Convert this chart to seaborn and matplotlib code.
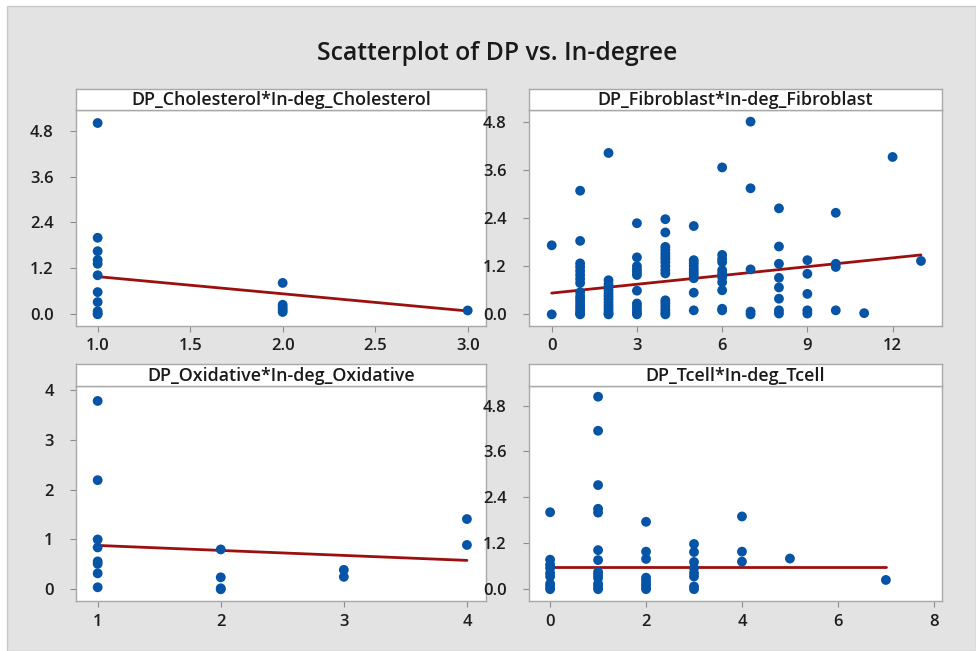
import numpy as np
import pandas as pd
import matplotlib
matplotlib.use("Agg")
import matplotlib.pyplot as plt
from matplotlib.patches import Rectangle
import seaborn as sns

sns.set_style("white")
plt.rcParams['font.family'] = ['Open Sans', 'DejaVu Sans']

# ---------------- data ----------------
title = "Scatterplot of DP vs. In-degree"
panel_titles = ["DP_Cholesterol*In-deg_Cholesterol", "DP_Fibroblast*In-deg_Fibroblast",
                "DP_Oxidative*In-deg_Oxidative", "DP_Tcell*In-deg_Tcell"]

chol_x = [1]*11 + [2]*5 + [3]
chol_y = [5.0, 2.0, 1.65, 1.42, 1.32, 1.02, 0.58, 0.32, 0.08, 0.02, 0.0,
          0.82, 0.25, 0.18, 0.12, 0.06,
          0.1]

fib_x = ([0]*2 + [1]*17 + [2]*14 + [3]*12 + [4]*17 + [5]*10 + [6]*11 + [7]*5
         + [8]*8 + [9]*5 + [10]*4 + [11] + [12] + [13])
fib_y = ([1.72, 0.0] +
         [3.08, 1.83, 1.27, 1.18, 1.08, 0.98, 0.88, 0.78, 0.55, 0.45, 0.38, 0.30, 0.22, 0.15, 0.08, 0.02, 0.0] +
         [4.02, 0.85, 0.75, 0.68, 0.60, 0.52, 0.45, 0.38, 0.30, 0.22, 0.15, 0.08, 0.02, 0.0] +
         [2.27, 1.42, 1.20, 1.12, 1.05, 0.98, 0.59, 0.27, 0.20, 0.12, 0.05, 0.0] +
         [2.37, 2.04, 1.68, 1.60, 1.52, 1.45, 1.38, 1.30, 1.20, 1.10, 1.02, 0.35, 0.28, 0.20, 0.12, 0.05, 0.0] +
         [2.20, 1.35, 1.28, 1.20, 1.12, 1.05, 0.98, 0.90, 0.54, 0.10] +
         [3.66, 1.48, 1.38, 1.30, 1.10, 1.02, 0.92, 0.80, 0.60, 0.14, 0.10] +
         [4.80, 3.14, 1.12, 0.07, 0.0] +
         [2.64, 1.69, 1.26, 0.91, 0.67, 0.39, 0.10, 0.02] +
         [1.35, 1.01, 0.51, 0.10, 0.02] +
         [2.53, 1.26, 1.18, 0.10] +
         [0.03] + [3.92] + [1.33])

oxi_x = [1]*8 + [2]*4 + [3]*2 + [4]*2
oxi_y = [3.78, 2.19, 1.0, 0.84, 0.56, 0.51, 0.32, 0.04,
         0.80, 0.24, 0.02, 0.0,
         0.39, 0.25,
         1.41, 0.89]

tcell_x = [0]*9 + [1]*13 + [2]*8 + [3]*8 + [4]*3 + [5] + [7]
tcell_y = ([2.01, 0.77, 0.64, 0.55, 0.42, 0.33, 0.14, 0.07, 0.0] +
           [5.03, 4.14, 2.72, 2.10, 2.0, 1.02, 0.76, 0.45, 0.37, 0.29, 0.14, 0.07, 0.0] +
           [1.76, 0.98, 0.79, 0.30, 0.22, 0.14, 0.07, 0.0] +
           [1.18, 0.97, 0.71, 0.55, 0.42, 0.33, 0.07, 0.0] +
           [1.90, 0.98, 0.72] + [0.80] + [0.24])

# fitted regression lines (end points)
fit_x = [[1, 3], [0, 13], [1, 4], [0, 7]]
fit_y = [[0.985, 0.087], [0.53, 1.48], [0.88, 0.58], [0.575, 0.575]]

xticks = [[1.0, 1.5, 2.0, 2.5, 3.0], [0, 3, 6, 9, 12], [1, 2, 3, 4], [0, 2, 4, 6, 8]]
xticklabels = [["1.0", "1.5", "2.0", "2.5", "3.0"], ["0", "3", "6", "9", "12"],
               ["1", "2", "3", "4"], ["0", "2", "4", "6", "8"]]
yticks = [[0.0, 1.2, 2.4, 3.6, 4.8], [0.0, 1.2, 2.4, 3.6, 4.8], [0, 1, 2, 3, 4], [0.0, 1.2, 2.4, 3.6, 4.8]]
yticklabels = [["0.0", "1.2", "2.4", "3.6", "4.8"], ["0.0", "1.2", "2.4", "3.6", "4.8"],
               ["0", "1", "2", "3", "4"], ["0.0", "1.2", "2.4", "3.6", "4.8"]]

# ---------------- layout ----------------
W, H = 976, 651
fig = plt.figure(figsize=(W/100, H/100), dpi=100, facecolor="white")
fig.patches.append(Rectangle((7/W, 0), 1 - 7/W, 1 - 6/H, transform=fig.transFigure,
                             facecolor="#e3e3e3", edgecolor="#c9c9c9", linewidth=1.0, zorder=-10))

fig.text(497/W, 1 - 53/H, title, ha="center", va="center", fontsize=17.8,
         fontweight="semibold", color="#1a1a1a")

boxes = [(76, 486, 110, 326, 89), (529, 942, 110, 326, 89),
         (76, 486, 386, 601, 364), (529, 942, 386, 601, 364)]
xlims = [(0.883, 3.099), (-0.8, 13.74), (0.824, 4.155), (-0.44, 8.17)]
ylims = [(-0.306, 5.34), (-0.29, 5.09), (-0.235, 4.08), (-0.31, 5.31)]

xs = [chol_x, fib_x, oxi_x, tcell_x]
ys = [chol_y, fib_y, oxi_y, tcell_y]

dot_color = "#0654a6"
line_color = "#9b0f0f"
spine_color = "#a8a8a8"

for i in range(4):
    l, r, t, b, st = boxes[i]
    ax = fig.add_axes([l/W, 1 - b/H, (r - l)/W, (b - t)/H])
    ax.set_facecolor("white")
    df = pd.DataFrame({"x": xs[i], "y": ys[i]})
    fdf = pd.DataFrame({"x": fit_x[i], "y": fit_y[i]})
    sns.lineplot(data=fdf, x="x", y="y", ax=ax, color=line_color, linewidth=2.0, zorder=2)
    sns.scatterplot(data=df, x="x", y="y", ax=ax, color=dot_color, s=50, edgecolor="none",
                    linewidth=0, zorder=3)
    ax.set_xlim(*xlims[i])
    ax.set_ylim(*ylims[i])
    ax.set_xticks(xticks[i])
    ax.set_xticklabels(xticklabels[i])
    ax.set_yticks(yticks[i])
    ax.set_yticklabels(yticklabels[i])
    ax.set_xlabel("")
    ax.set_ylabel("")
    ax.tick_params(axis="both", which="both", direction="out", length=4, width=0.8,
                   color="#8c8c8c", labelsize=12, labelcolor="#1e1e1e",
                   bottom=True, left=True)
    ax.tick_params(axis="x", pad=5)
    ax.tick_params(axis="y", pad=12)
    for lab in ax.get_xticklabels() + ax.get_yticklabels():
        lab.set_fontweight("semibold")
    for sp in ax.spines.values():
        sp.set_color(spine_color)
        sp.set_linewidth(1.0)
        sp.set_visible(True)

    # strip header
    sax = fig.add_axes([l/W, 1 - t/H, (r - l)/W, (t - st)/H])
    sax.set_facecolor("white")
    sax.set_xticks([])
    sax.set_yticks([])
    for sp in sax.spines.values():
        sp.set_color(spine_color)
        sp.set_linewidth(1.0)
    sax.text(0.5, 0.47, panel_titles[i], transform=sax.transAxes, ha="center", va="center",
             fontsize=12.9, fontweight="semibold", color="#1a1a1a")

fig.savefig("out.png", dpi=100, facecolor=fig.get_facecolor())
